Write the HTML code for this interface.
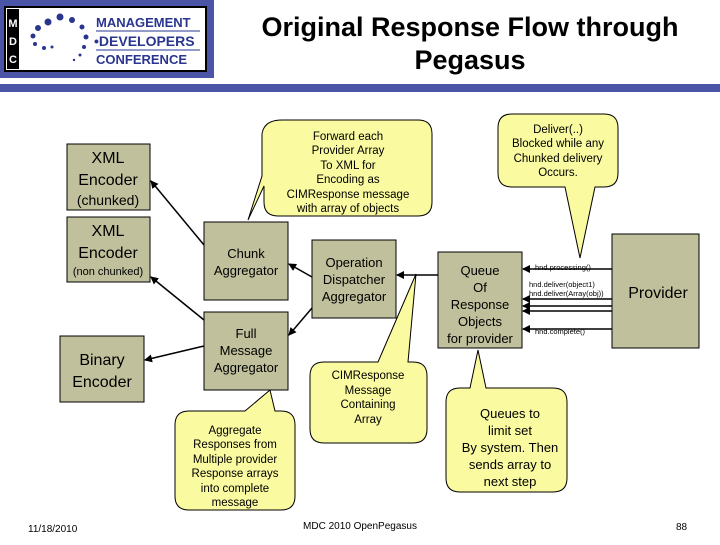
<!DOCTYPE html>
<html><head><style>
body{margin:0;background:#fff;}
svg text{font-family:"Liberation Sans",sans-serif;}
</style></head><body>
<svg width="720" height="540" viewBox="0 0 720 540" xmlns="http://www.w3.org/2000/svg">
<defs>
<marker id="ah" markerWidth="8" markerHeight="8" refX="7" refY="4" orient="auto" markerUnits="userSpaceOnUse"><path d="M0,0 L8,4 L0,8 z" fill="#000"/></marker>
</defs>
<!-- header -->
<rect x="0" y="0" width="214" height="78" fill="#4a55a8"/>
<rect x="5" y="7" width="201" height="64" fill="#fff" stroke="#000" stroke-width="2"/>
<rect x="7" y="9" width="12" height="60" fill="#000"/>
<text x="13" y="27" font-size="11" fill="#fff" font-weight="bold" text-anchor="middle">M</text>
<text x="13" y="45" font-size="11" fill="#fff" font-weight="bold" text-anchor="middle">D</text>
<text x="13" y="63" font-size="11" fill="#fff" font-weight="bold" text-anchor="middle">C</text>
<g fill="#2a3590">
<circle cx="48" cy="22" r="3.5"/><circle cx="60" cy="17" r="3.5"/><circle cx="72" cy="20" r="3"/><circle cx="82" cy="27" r="2.5"/>
<circle cx="38" cy="28" r="3"/><circle cx="33" cy="36" r="2.5"/><circle cx="35" cy="44" r="2"/><circle cx="44" cy="48" r="2"/><circle cx="52" cy="47" r="1.5"/>
<circle cx="86" cy="37" r="2.5"/><circle cx="84" cy="47" r="2"/><circle cx="80" cy="55" r="1.5"/><circle cx="74" cy="60" r="1.2"/>
</g>
<text x="96" y="27" font-size="13" font-weight="bold" fill="#2a3590">MANAGEMENT</text>
<line x1="96" y1="31" x2="200" y2="31" stroke="#2a3590"/>
<text x="94" y="46" font-size="14" font-weight="bold" fill="#2a3590">•DEVELOPERS</text>
<line x1="96" y1="50" x2="200" y2="50" stroke="#2a3590"/>
<text x="96" y="64" font-size="13" font-weight="bold" fill="#2a3590">CONFERENCE</text>
<text x="470" y="36" font-size="27" font-weight="bold" text-anchor="middle">Original Response Flow through</text>
<text x="470" y="69" font-size="27" font-weight="bold" text-anchor="middle">Pegasus</text>
<rect x="0" y="84" width="720" height="8" fill="#4a55a8"/>

<!-- callouts -->
<g fill="#fafaa0" stroke="#000" stroke-width="1">
<path d="M282,120 H418 Q432,120 432,134 V202 Q432,216 418,216 H278 Q264,216 264,202 V186 L248,220 L262,176 V134 Q264,120 282,120 z"/>
<path d="M512,114 H604 Q618,114 618,128 V173 Q618,187 604,187 H595 L580,258 L565,187 H512 Q498,187 498,173 V128 Q498,114 512,114 z"/>
<path d="M324,362 H378 L416,274 L408,362 H413 Q427,362 427,376 V429 Q427,443 413,443 H324 Q310,443 310,429 V376 Q310,362 324,362 z"/>
<path d="M189,411 H245 L270,390 L275,411 H281 Q295,411 295,425 V496 Q295,510 281,510 H189 Q175,510 175,496 V425 Q175,411 189,411 z"/>
<path d="M460,388 H470 L478,350 L486,388 H553 Q567,388 567,402 V478 Q567,492 553,492 H460 Q446,492 446,478 V402 Q446,388 460,388 z"/>
</g>
<g font-size="11.5" text-anchor="middle">
<text x="348" y="140">Forward each</text><text x="348" y="154">Provider Array</text><text x="348" y="169">To XML for</text><text x="348" y="183">Encoding as</text><text x="348" y="198">CIMResponse message</text><text x="348" y="212">with array of objects</text>
<text x="558" y="133">Deliver(..)</text><text x="558" y="147">Blocked while any</text><text x="558" y="162">Chunked delivery</text><text x="558" y="176">Occurs.</text>
<text x="368" y="379">CIMResponse</text><text x="368" y="394">Message</text><text x="368" y="408">Containing</text><text x="368" y="423">Array</text>
<text x="235" y="434">Aggregate</text><text x="235" y="448">Responses from</text><text x="235" y="463">Multiple provider</text><text x="235" y="477">Response arrays</text><text x="235" y="492">into complete</text><text x="235" y="506">message</text>
</g>
<g font-size="13" text-anchor="middle">
<text x="510" y="418">Queues to</text><text x="510" y="435">limit set</text><text x="510" y="452">By system. Then</text><text x="510" y="469">sends array to</text><text x="510" y="486">next step</text>
</g>

<!-- boxes -->
<g fill="#c0c09c" stroke="#000" stroke-width="1">
<rect x="67" y="144" width="83" height="66"/>
<rect x="67" y="217" width="83" height="65"/>
<rect x="60" y="336" width="84" height="66"/>
<rect x="204" y="222" width="84" height="78"/>
<rect x="204" y="312" width="84" height="78"/>
<rect x="312" y="240" width="84" height="78"/>
<rect x="438" y="252" width="84" height="96"/>
<rect x="612" y="234" width="87" height="114"/>
</g>
<g text-anchor="middle">
<text x="108" y="163" font-size="16">XML</text><text x="108" y="185" font-size="16">Encoder</text><text x="108" y="205" font-size="14">(chunked)</text>
<text x="108" y="236" font-size="16">XML</text><text x="108" y="258" font-size="16">Encoder</text><text x="108" y="275" font-size="11">(non chunked)</text>
<text x="102" y="365" font-size="16">Binary</text><text x="102" y="387" font-size="16">Encoder</text>
<text x="246" y="258" font-size="13">Chunk</text><text x="246" y="275" font-size="13">Aggregator</text>
<text x="246" y="338" font-size="13">Full</text><text x="246" y="355" font-size="13">Message</text><text x="246" y="372" font-size="13">Aggregator</text>
<text x="354" y="267" font-size="13">Operation</text><text x="354" y="284" font-size="13">Dispatcher</text><text x="354" y="301" font-size="13">Aggregator</text>
<text x="480" y="275" font-size="13">Queue</text><text x="480" y="292" font-size="13">Of</text><text x="480" y="309" font-size="13">Response</text><text x="480" y="326" font-size="13">Objects</text><text x="480" y="343" font-size="13">for provider</text>
<text x="658" y="298" font-size="16">Provider</text>
</g>

<!-- connectors -->
<g stroke="#000" stroke-width="1.5" fill="none" marker-end="url(#ah)">
<line x1="204" y1="245" x2="151" y2="181"/>
<line x1="204" y1="320" x2="151" y2="277"/>
<line x1="204" y1="346" x2="145" y2="360"/>
<line x1="312" y1="277" x2="289" y2="264"/>
<line x1="312" y1="308" x2="289" y2="335"/>
<line x1="438" y1="275" x2="397" y2="275"/>
<line x1="612" y1="269" x2="523" y2="269"/>
<line x1="612" y1="299" x2="523" y2="299"/>
<line x1="612" y1="306" x2="523" y2="306"/>
<line x1="612" y1="311" x2="523" y2="311"/>
<line x1="612" y1="329" x2="523" y2="329"/>
</g>
<g font-size="7.5">
<text x="535" y="270">hnd.processing()</text>
<text x="529" y="287">hnd.deliver(object1)</text>
<text x="529" y="296">hnd.deliver(Array(obj))</text>
<text x="535" y="334">hnd.complete()</text>
</g>

<!-- footer -->
<text x="28" y="532" font-size="10">11/18/2010</text>
<text x="360" y="529" font-size="10" text-anchor="middle">MDC 2010 OpenPegasus</text>
<text x="676" y="530" font-size="10">88</text>
</svg>
</body></html>
